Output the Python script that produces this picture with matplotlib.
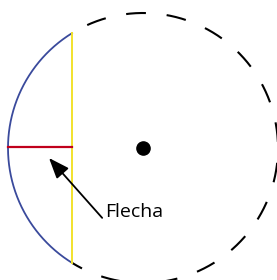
import numpy as np
import matplotlib.pyplot as plt

# geometry (pixel units, y down)
center = (143, 148)
radius = 135
chord_x = 72
label = "Flecha"
arrow_tip = (49, 158)
arrow_tail = (103, 203)

cx, cy = center
theta_c = np.arccos((chord_x - cx) / radius)

fig = plt.figure(figsize=(2.77, 2.80), dpi=100)
ax = fig.add_axes([0, 0, 1, 1])
ax.set_xlim(0, 277)
ax.set_ylim(280, 0)
ax.axis('off')

# dashed part of the circle (right side)
t = np.linspace(-theta_c, theta_c, 400)
ax.plot(cx + radius * np.cos(t), cy - radius * np.sin(t),
        color='black', lw=1.5, linestyle=(4, (9.5, 10)))

# solid blue arc (segment left of the chord)
t = np.linspace(theta_c, 2 * np.pi - theta_c, 300)
ax.plot(cx + radius * np.cos(t), cy - radius * np.sin(t),
        color='#3a4a9c', lw=1.3)

# chord
half = np.sqrt(radius**2 - (chord_x - cx)**2)
ax.plot([chord_x, chord_x], [cy - half, cy + half], color='#f2e22c', lw=1.4)

# sagitta (flecha)
ax.plot([cx - radius, chord_x], [cy - 1, cy - 1], color='#c0001c', lw=1.6)

# centre point
ax.plot(cx, cy, 'o', color='black', ms=9.5)

ax.annotate(label, xy=arrow_tip, xytext=(arrow_tail[0] + 31, arrow_tail[1] + 9),
            fontsize=14, family='Open Sans', ha='center', va='center',
            arrowprops=dict(arrowstyle='-|>,head_length=0.9,head_width=0.35',
                            color='black', lw=1.3, shrinkA=0, shrinkB=0,
                            relpos=(0, 0)))

fig.savefig('out.png', dpi=100)
